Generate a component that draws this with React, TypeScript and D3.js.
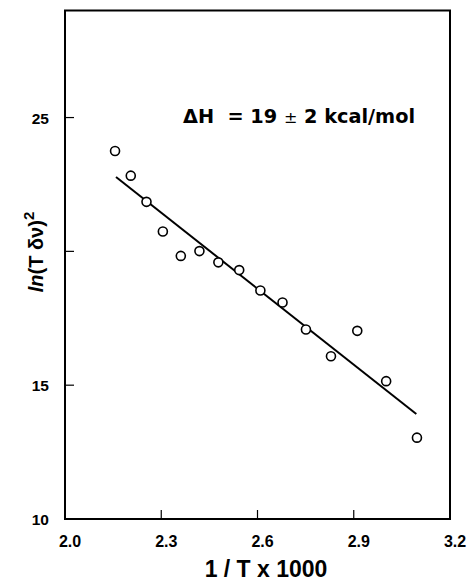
import React from 'react';
import * as d3 from 'd3';

// data
const invT = [2.156, 2.205, 2.254, 2.305, 2.361, 2.419, 2.478, 2.543, 2.609, 2.678, 2.751, 2.829, 2.911, 3.001, 3.097];
const lnTdv = [23.75, 22.83, 21.85, 20.74, 19.83, 20.01, 19.59, 19.30, 18.54, 18.09, 17.08, 16.08, 17.03, 15.15, 13.04];
const fitX = [2.159, 3.095];
const fitY = [22.78, 13.92];
const xTicks = [2.0, 2.3, 2.6, 2.9, 3.2];
const yTicks = [10, 15, 20, 25];
const yTickLabels = ['10', '15', '', '25'];

const W = 470;
const H = 583;
const margin = { left: 65, right: 20, top: 10.5, bottom: 64 };
const font = '"Liberation Sans", Arial, sans-serif';
const wideFont = '"DejaVu Sans", sans-serif';

const App = () => {
  const x = d3.scaleLinear().domain([2.0, 3.2]).range([margin.left, W - margin.right]);
  const y = d3.scaleLinear().domain([10, 29]).range([H - margin.bottom, margin.top]);
  const line = d3.line<number>()
    .x((d) => x(d))
    .y((_, i) => y(fitY[i]));

  const x0 = x(2.0), x1 = x(3.2), y0 = y(10), y1 = y(29);

  return (
    <svg width={W} height={H} style={{ position: 'absolute', left: 0, top: 0 }} fontFamily={font}>
      <rect x={0} y={0} width={W} height={H} fill="white" />
      {/* frame */}
      <rect x={x0} y={y1} width={x1 - x0} height={y0 - y1} fill="none" stroke="black" strokeWidth={2} />

      {/* x ticks, pointing inward */}
      {xTicks.map((t) => (
        <g key={'x' + t}>
          {t > 2.0 && t < 3.2 && <line x1={x(t)} x2={x(t)} y1={y0} y2={y0 - 9} stroke="black" strokeWidth={1.2} />}
          <text x={x(t) + 5} y={y0 + 28} textAnchor="middle" fontSize={16} fontWeight="bold">
            {t.toFixed(1)}
          </text>
        </g>
      ))}

      {/* y ticks */}
      {yTicks.map((t, i) => (
        <g key={'y' + t}>
          {t > 10 && <line x1={x0} x2={x0 + 9} y1={y(t)} y2={y(t)} stroke="black" strokeWidth={1.2} />}
          <text x={49} y={y(t) + 6} textAnchor="end" fontSize={15.5} fontWeight="bold">
            {yTickLabels[i]}
          </text>
        </g>
      ))}

      {/* fit line */}
      <path d={line(fitX) || ''} fill="none" stroke="black" strokeWidth={2} />

      {/* points */}
      {invT.map((v, i) => (
        <circle key={i} cx={x(v)} cy={y(lnTdv[i])} r={4.5} fill="white" stroke="black" strokeWidth={1.6} />
      ))}

      {/* annotation */}
      <text x={183} y={123} fontSize={19.3} fontWeight="bold" fontFamily={wideFont} xmlSpace="preserve">
        ΔH  = 19 <tspan fontSize={16} fontWeight="normal">±</tspan> 2 kcal/mol
      </text>

      {/* axis titles */}
      <text x={266} y={577} textAnchor="middle" fontSize={23} fontWeight="bold">
        1 / T x 1000
      </text>
      <text transform="translate(43,252) rotate(-90)" textAnchor="middle" fontSize={20} fontWeight="bold">
        <tspan fontStyle="italic">ln</tspan>(T δν)<tspan dy={-9} fontSize={15}>2</tspan>
      </text>
    </svg>
  );
};

export default App;
